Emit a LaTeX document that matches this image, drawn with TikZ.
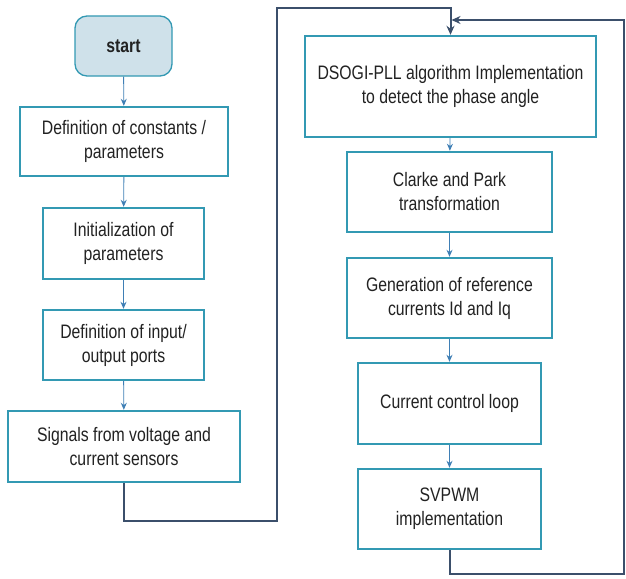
\documentclass[tikz,border=0pt]{standalone}
\usepackage{fontspec}
\setmainfont[FakeStretch=0.81]{Liberation Sans}
\usetikzlibrary{arrows.meta}

\definecolor{boxline}{HTML}{3399B3}
\definecolor{startfill}{HTML}{CFE1EA}
\definecolor{steparrow}{HTML}{3F7FB5}
\definecolor{loopline}{HTML}{3B4F6B}
\definecolor{txt}{HTML}{222222}

\tikzset{
  stepbox/.style={draw=boxline, line width=2.4pt, fill=white, align=center,
    text=txt, inner sep=2pt, font=\fontsize{19.5}{24}\selectfont},
  startbox/.style={stepbox, fill=startfill, rounded corners=12pt, line width=1.3pt,
    font=\fontsize{19.5}{24}\selectfont\bfseries},
  flow/.style={draw=steparrow, line width=0.9pt, -{Stealth[length=7pt,width=6pt]}},
  loop/.style={draw=loopline, line width=2pt, -{Stealth[length=9pt,width=8pt]}}
}

\begin{document}
\begin{tikzpicture}[x=1pt,y=-1pt]
\useasboundingbox (0,0) rectangle (626,578);

% left column: setup steps
\node[startbox, minimum width=97pt, minimum height=60pt] (start) at (123.5,46) {start};
\node[stepbox, minimum width=208pt, minimum height=69pt] (consts) at (124,141.5)
  {Definition of constants /\\parameters};
\node[stepbox, minimum width=161pt, minimum height=71pt] (init) at (123.5,243.5)
  {Initialization of\\parameters};
\node[stepbox, minimum width=161pt, minimum height=70pt] (ports) at (123.5,345)
  {Definition of input/\\output ports};
\node[stepbox, minimum width=232pt, minimum height=71pt] (sens) at (124,446.5)
  {Signals from voltage and\\current sensors};

% right column: control loop
\node[stepbox, minimum width=291pt, minimum height=101pt] (pll) at (450.5,86.5)
  {DSOGI-PLL algorithm Implementation\\to detect the phase angle};
\node[stepbox, minimum width=205pt, minimum height=80pt] (clarke) at (449.5,192)
  {Clarke and Park\\transformation};
\node[stepbox, minimum width=205pt, minimum height=80pt] (iref) at (449.5,298)
  {Generation of reference\\currents Id and Iq};
\node[stepbox, minimum width=183pt, minimum height=81pt] (ctrl) at (449.5,403.5)
  {Current control loop};
\node[stepbox, minimum width=183pt, minimum height=80pt] (svpwm) at (449.5,509)
  {SVPWM\\implementation};

% sequential arrows
\draw[flow] (start) -- (consts);
\draw[flow] (consts) -- (init);
\draw[flow] (init) -- (ports);
\draw[flow] (ports) -- (sens);
\draw[flow] (pll) -- (clarke);
\draw[flow] (clarke) -- (iref);
\draw[flow] (iref) -- (ctrl);
\draw[flow] (ctrl) -- (svpwm);

% hand-over from setup to the loop
\coordinate (jumpA) at (124,521);
\coordinate (jumpB) at (277,521);
\coordinate (jumpC) at (277,8);
\coordinate (jumpD) at (450.5,8);
\draw[loop] (sens.south) -- (jumpA) -- (jumpB) -- (jumpC) -- (jumpD) -- (pll.north);

% feedback from SVPWM back to the PLL
\coordinate (backA) at (449.5,574);
\coordinate (backB) at (624,574);
\coordinate (backC) at (624,20);
\coordinate (backD) at (451.5,20);
\draw[loop] (svpwm.south) -- (backA) -- (backB) -- (backC) -- (backD);
\end{tikzpicture}
\end{document}
